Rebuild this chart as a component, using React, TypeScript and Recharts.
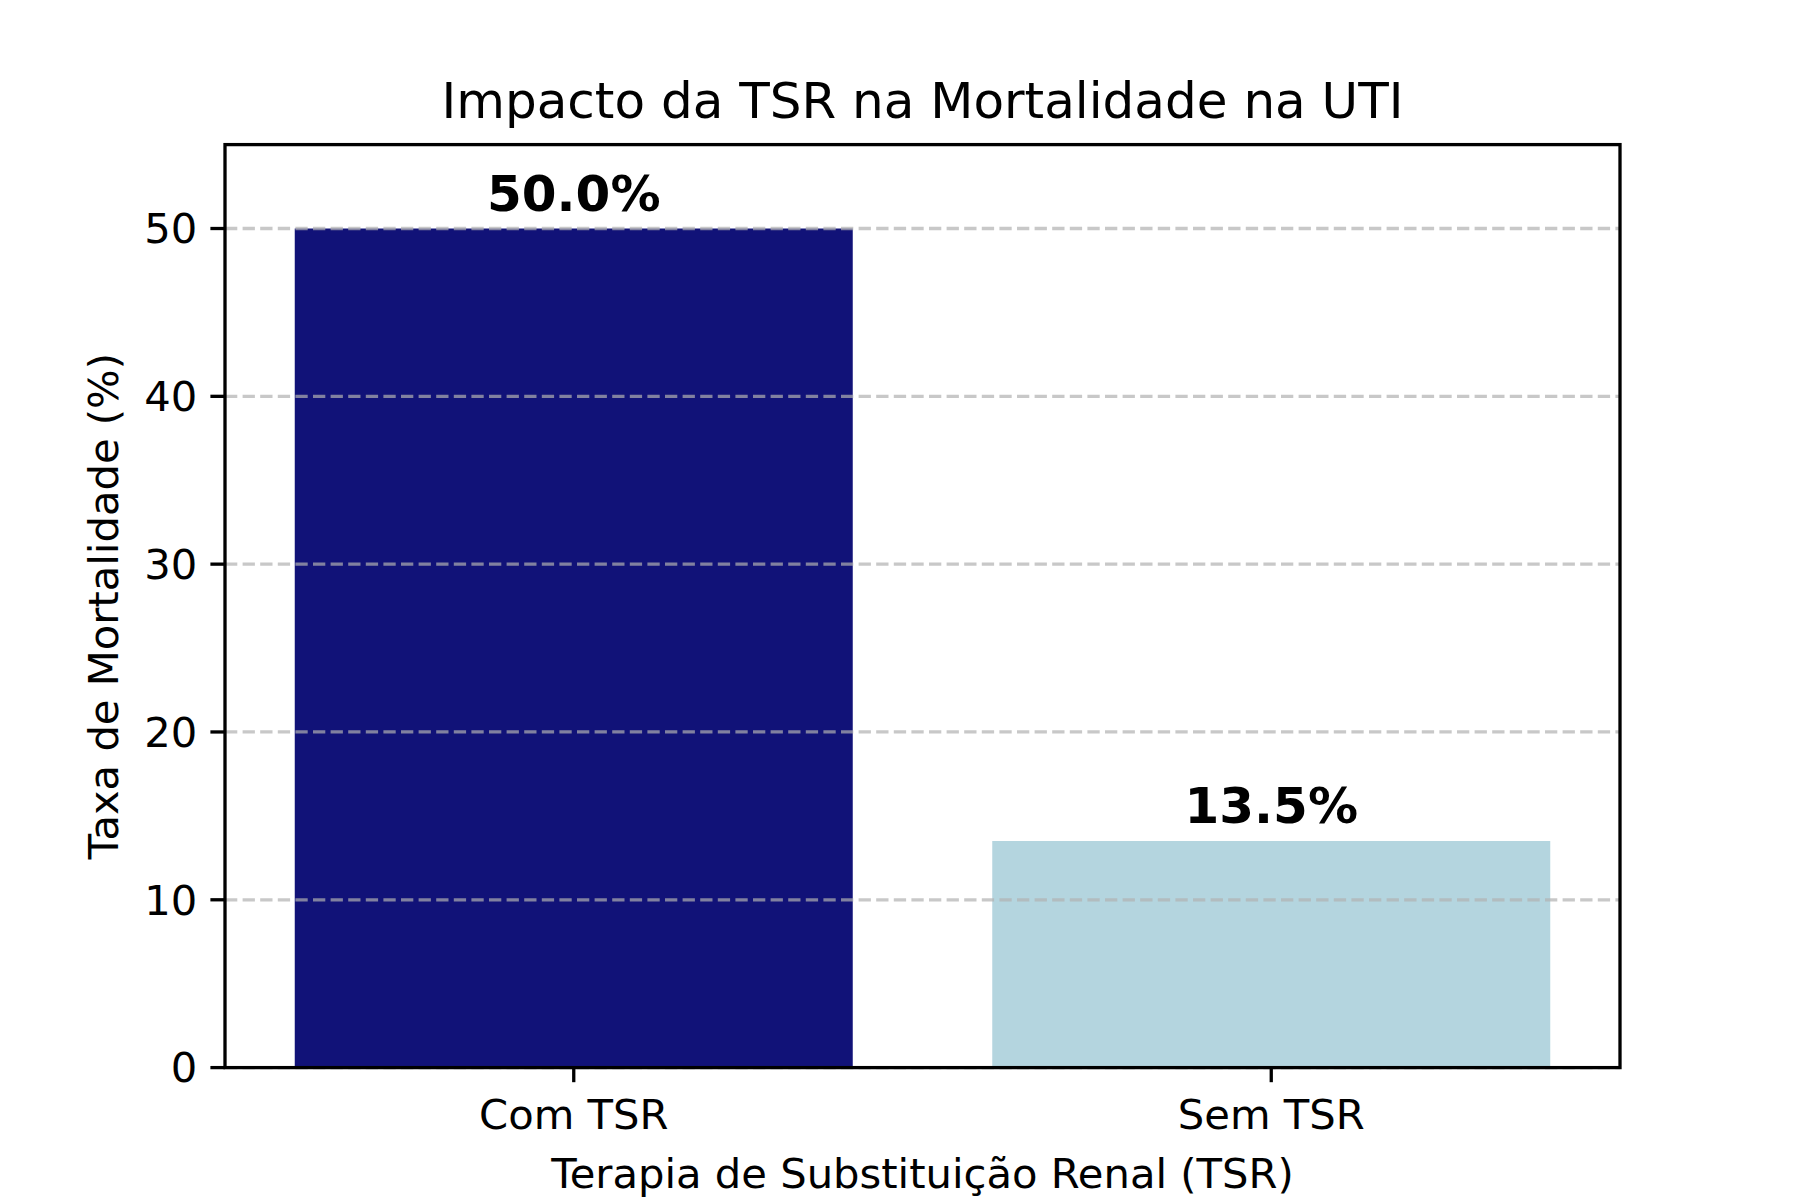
import { Bar, BarChart, Cell, LabelList, ReferenceLine, XAxis, YAxis } from 'recharts';

const categories = ['Com TSR', 'Sem TSR'];
const mortality = [50.0, 13.5];
const barColors = ['#111278', '#b4d5df'];
const yTicks = [0, 10, 20, 30, 40, 50];

const chartData = categories.map((name, i) => ({ name, value: mortality[i] }));

const W = 1800;
const H = 1200;
const plotLeft = 225;
const plotRight = 1620;
const plotTop = 144.6;
const plotBottom = 1067.6;
const yAxisWidth = 120;
const xAxisHeight = 80;
const font = '"DejaVu Sans", sans-serif';

function BarValueLabel(props: any) {
  const { x, y, width, value } = props;
  return (
    <text
      x={Number(x) + Number(width) / 2}
      y={Number(y) - 18}
      textAnchor="middle"
      fontFamily={font}
      fontSize={50}
      fontWeight="bold"
      fill="#000"
    >
      {`${Number(value).toFixed(1)}%`}
    </text>
  );
}

export default function App() {
  return (
    <div style={{ position: 'absolute', left: 0, top: 0, width: W, height: H, background: '#fff' }}>
      <BarChart
        width={W}
        height={H}
        data={chartData}
        barCategoryGap="10%"
        margin={{
          top: plotTop,
          right: W - plotRight,
          bottom: H - plotBottom - xAxisHeight,
          left: plotLeft - yAxisWidth,
        }}
      >
        <XAxis
          dataKey="name"
          height={xAxisHeight}
          axisLine={false}
          tickLine={{ stroke: '#000', strokeWidth: 3.3 }}
          tickSize={14.6}
          tickMargin={17}
          tick={{ fontSize: 41.7, fill: '#000', fontFamily: font }}
          interval={0}
        />
        <YAxis
          width={yAxisWidth}
          domain={[0, 55]}
          ticks={yTicks}
          axisLine={false}
          tickLine={{ stroke: '#000', strokeWidth: 3.3 }}
          tickSize={14.6}
          tickMargin={13}
          tick={{ fontSize: 41.7, fill: '#000', fontFamily: font }}
        />
        <Bar dataKey="value" isAnimationActive={false}>
          {chartData.map((d, i) => (
            <Cell key={d.name} fill={barColors[i]} />
          ))}
          <LabelList dataKey="value" content={BarValueLabel} />
        </Bar>
        {yTicks.map((t) => (
          <ReferenceLine
            key={t}
            y={t}
            stroke="#b0b0b0"
            strokeOpacity={0.7}
            strokeWidth={3.3}
            strokeDasharray="12.3 5.3"
          />
        ))}
      </BarChart>
      <svg
        width={W}
        height={H}
        style={{ position: 'absolute', left: 0, top: 0, pointerEvents: 'none' }}
      >
        <rect
          x={plotLeft}
          y={plotTop}
          width={plotRight - plotLeft}
          height={plotBottom - plotTop}
          fill="none"
          stroke="#000"
          strokeWidth={3.3}
        />
        <text
          x={(plotLeft + plotRight) / 2}
          y={118}
          textAnchor="middle"
          fontFamily={font}
          fontSize={50}
          fill="#000"
        >
          Impacto da TSR na Mortalidade na UTI
        </text>
        <text
          x={(plotLeft + plotRight) / 2}
          y={1188}
          textAnchor="middle"
          fontFamily={font}
          fontSize={41.7}
          fill="#000"
        >
          Terapia de Substituição Renal (TSR)
        </text>
        <text
          x={118}
          y={(plotTop + plotBottom) / 2}
          textAnchor="middle"
          fontFamily={font}
          fontSize={41.7}
          fill="#000"
          transform={`rotate(-90 118 ${(plotTop + plotBottom) / 2})`}
        >
          Taxa de Mortalidade (%)
        </text>
      </svg>
    </div>
  );
}
